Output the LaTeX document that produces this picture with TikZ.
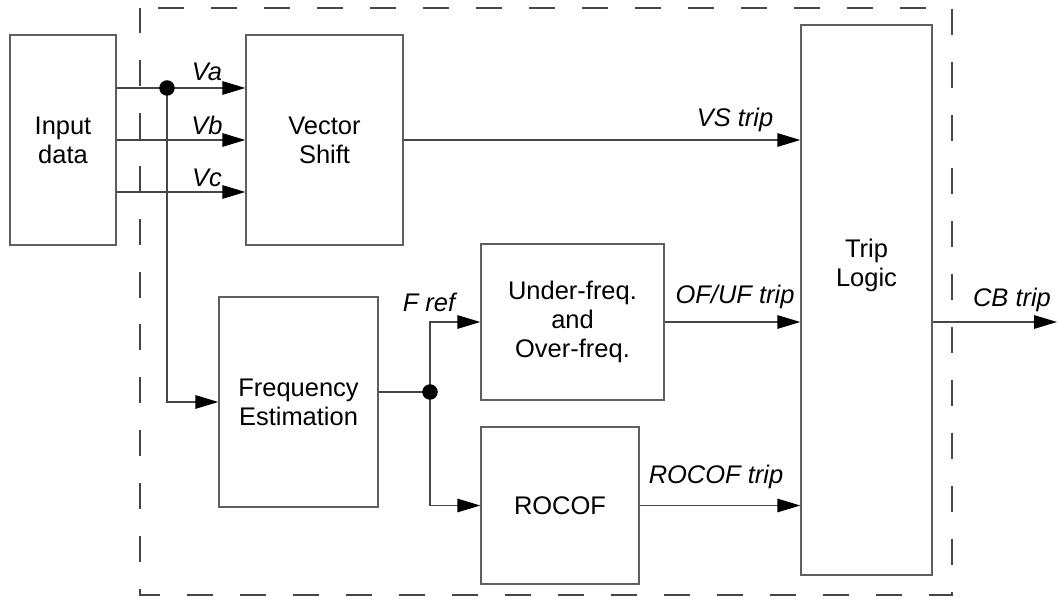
\documentclass[tikz,border=0pt]{standalone}
\usepackage{fontspec}
\setmainfont{Liberation Sans}
\definecolor{boxGray}{RGB}{95, 95, 95}
\definecolor{wireGray}{RGB}{70, 70, 70}
\usetikzlibrary{arrows.meta, positioning, calc}

\begin{document}
\begin{tikzpicture}[x=0.02cm, y=-0.02cm,
    font=\fontsize{14.5}{16.5}\selectfont,
    blk/.style={draw=boxGray, line width=0.8pt, rectangle, align=center, inner sep=0pt},
    wire/.style={draw=wireGray, line width=0.8pt},
    arr/.style={wire, -{Triangle[length=0.46cm, width=0.27cm, color=black, fill=black]}},
    sig/.style={font=\fontsize{14.5}{16.5}\selectfont\itshape, inner sep=0pt},
    junc/.style={circle, fill=black, inner sep=0pt, minimum size=0.31cm}]
  \useasboundingbox (0,0) rectangle (1059,597);

  % system frame
  \draw[wireGray, line width=0.8pt, dash pattern=on 0.52cm off 0.54cm, dash phase=0.7cm]
    (140,8) -- (952,8) -- (952,595) -- (140,595) -- cycle;

  % blocks
  \node[blk, minimum width=2.12cm, minimum height=4.2cm] (input) at (63,140) {Input\\data};
  \node[blk, minimum width=3.14cm, minimum height=4.2cm] (vs) at (324.5,140) {Vector\\Shift};
  \node[blk, minimum width=3.18cm, minimum height=4.2cm] (fe) at (298.5,402) {Frequency\\Estimation};
  \node[blk, minimum width=3.66cm, minimum height=3.12cm] (uf) at (572.5,322) {Under-freq.\\and\\Over-freq.};
  \node[blk, minimum width=3.16cm, minimum height=3.14cm] (rocof) at (560,505.5) {ROCOF};
  \node[blk, minimum width=2.62cm, minimum height=11cm] (trip) at (866.5,300) {};
  \node[align=center, inner sep=0pt] (triptxt) at (866.5,265) {Trip\\Logic};

  % taps and levels
  \coordinate (tap) at (167,88);
  \coordinate (vc) at (167,192);
  \coordinate (fork) at (430,392);
  \coordinate (cb) at (1057,322);

  % voltages
  \draw[arr] (input.east |- tap) -- (vs.west |- tap);
  \draw[arr] (input.east) -- (vs.west);
  \draw[arr] (input.east |- vc) -- (vs.west |- vc);
  \draw[arr] (tap) |- (fe.west);
  \node[junc] (tapdot) at (tap) {};

  % frequency
  \draw[wire] (fe.east |- fork) -- (fork);
  \draw[arr] (fork) |- (uf.west);
  \draw[arr] (fork) |- (rocof.west);
  \node[junc] (forkdot) at (fork) {};

  % trips
  \draw[arr] (vs.east) -- (vs.east -| trip.west);
  \draw[arr] (uf.east) -- (uf.east -| trip.west);
  \draw[arr] (rocof.east) -- (rocof.east -| trip.west);
  \draw[arr] (trip.east |- cb) -- (cb);

  % labels
  \node[sig] (lva) at (207,72) {Va};
  \node[sig] (lvb) at (207,125) {Vb};
  \node[sig] (lvc) at (207,178) {Vc};
  \node[sig] (lfref) at (429,302) {F ref};
  \node[sig] (lvs) at (735,120) {VS trip};
  \node[sig] (lof) at (735,297) {OF/UF trip};
  \node[sig] (lrocof) at (716,477) {ROCOF trip};
  \node[sig] (lcb) at (1012,300) {CB trip};
\end{tikzpicture}
\end{document}
